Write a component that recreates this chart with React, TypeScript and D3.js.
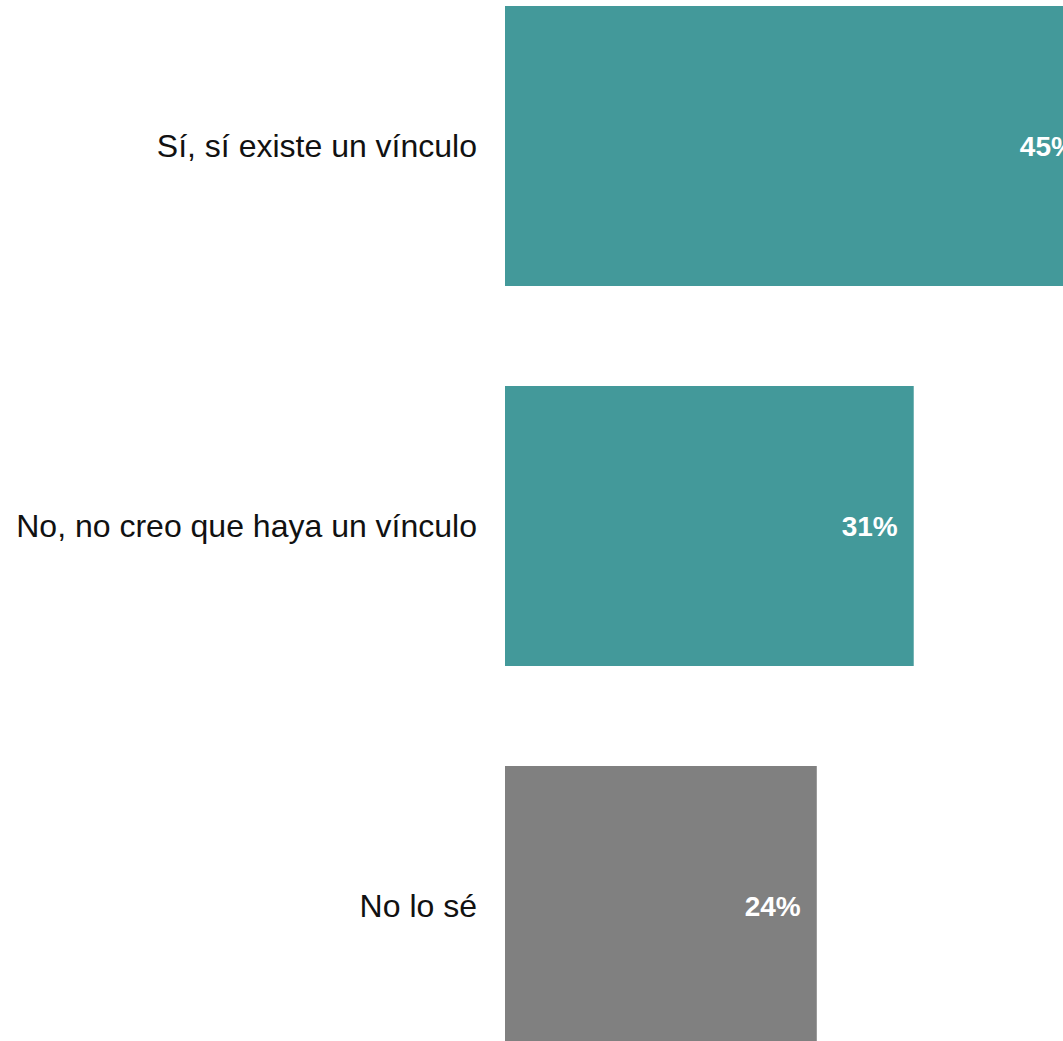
import React from "react";
import * as d3 from "d3";

const categories = ["Sí, sí existe un vínculo", "No, no creo que haya un vínculo", "No lo sé"];
const values = [44.8, 31.2, 23.8];
const colors = ["#43999a", "#43999a", "#808080"];

const W = 1063;
const H = 1041;

export default function App() {
  const x = d3.scaleLinear().domain([0, 1]).range([505, 505 + 13.1]);
  const y = d3
    .scaleBand<string>()
    .domain(categories)
    .range([-44, 1096])
    .paddingInner(100 / 380)
    .paddingOuter(50 / 380);

  return (
    <svg
      width={W}
      height={H}
      style={{ position: "fixed", left: 0, top: 0, overflow: "hidden", background: "#fff" }}
    >
      {categories.map((c, i) => {
        const y0 = y(c)!;
        const bh = y.bandwidth();
        const x1 = x(values[i]);
        return (
          <g key={c}>
            <rect x={x(0)} y={y0} width={x1 - x(0)} height={bh} fill={colors[i]} />
            <text
              x={477}
              y={y0 + bh / 2}
              dy="0.35em"
              textAnchor="end"
              fontFamily="Liberation Sans, Arial, sans-serif"
              fontSize={32}
              fill="#111"
            >
              {c}
            </text>
            <text
              x={x1 - 16}
              y={y0 + bh / 2}
              dy="0.35em"
              textAnchor="end"
              fontFamily="Liberation Sans, Arial, sans-serif"
              fontSize={28}
              fontWeight="bold"
              fill="#fff"
            >
              {Math.round(values[i]) + "%"}
            </text>
          </g>
        );
      })}
    </svg>
  );
}
